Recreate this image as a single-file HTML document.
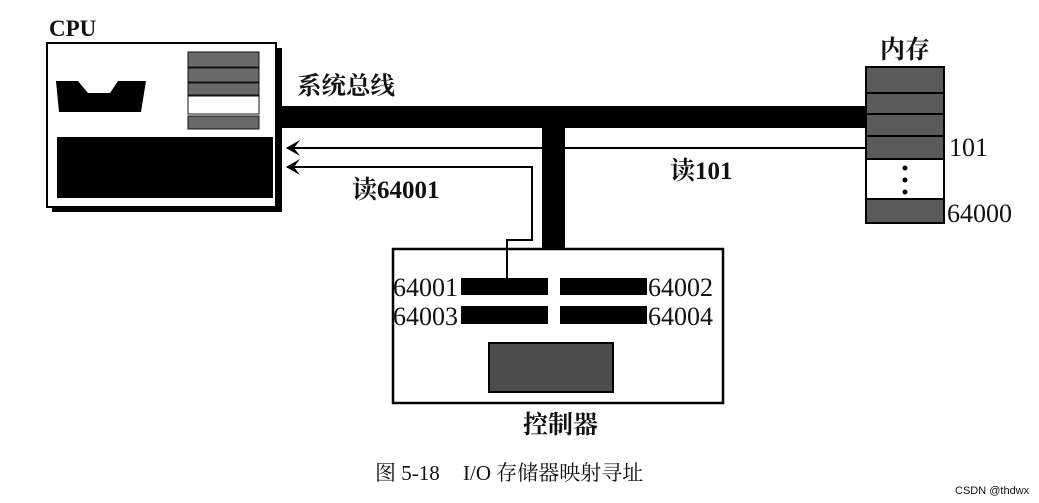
<!DOCTYPE html>
<html><head><meta charset="utf-8">
<style>
html,body{margin:0;padding:0;background:#fff;}
svg{display:block;}
text{font-family:"Liberation Serif","Noto Serif CJK SC","Noto Sans CJK SC",serif;fill:#111;}
</style></head>
<body>
<svg width="1039" height="503" viewBox="0 0 1039 503" xmlns="http://www.w3.org/2000/svg">
<rect width="1039" height="503" fill="#fff"/>
<!-- CPU -->
<text x="49" y="36" font-size="23" font-weight="bold">CPU</text>
<rect x="52" y="48" width="230" height="164" fill="#000"/>
<rect x="47" y="43" width="229" height="164" fill="#fff" stroke="#000" stroke-width="2"/>
<rect x="188" y="52" width="71" height="15" fill="#6a6a6a" stroke="#111"/>
<rect x="188" y="68" width="71" height="14" fill="#6a6a6a" stroke="#111"/>
<rect x="188" y="83" width="71" height="12" fill="#6a6a6a" stroke="#111"/>
<rect x="188" y="96" width="71" height="18" fill="#fff" stroke="#111"/>
<rect x="188" y="116" width="71" height="13" fill="#6a6a6a" stroke="#111"/>
<polygon points="56,81 78,81 88,93 110,93 118,81 146,81 141,112 59,112" fill="#000"/>
<rect x="57" y="137" width="216" height="61" fill="#000"/>
<!-- bus -->
<rect x="280" y="106" width="588" height="22" fill="#000"/>
<rect x="542" y="126" width="23" height="124" fill="#000"/>
<text x="297" y="94" font-size="24.5" font-weight="bold">系统总线</text>
<!-- thin lines -->
<line x1="287" y1="148" x2="868" y2="148" stroke="#000" stroke-width="2"/>
<polyline points="287,167 532,167 532,240 507,240 507,280" fill="none" stroke="#000" stroke-width="2"/>
<path d="M286,148 L300,140 L294,148 L300,156 Z" fill="#000"/>
<path d="M286,167 L300,159 L294,167 L300,175 Z" fill="#000"/>
<text x="352" y="198" font-size="25" font-weight="bold">读64001</text>
<text x="670" y="179" font-size="25" font-weight="bold">读101</text>
<!-- memory -->
<text x="880" y="58" font-size="25" font-weight="bold">内存</text>
<rect x="866" y="67" width="78" height="156" fill="#5a5a5a" stroke="#000" stroke-width="2"/>
<rect x="867" y="159" width="76" height="40" fill="#fff"/>
<line x1="866" y1="93" x2="944" y2="93" stroke="#000" stroke-width="2"/>
<line x1="866" y1="114" x2="944" y2="114" stroke="#000" stroke-width="2"/>
<line x1="866" y1="136" x2="944" y2="136" stroke="#000" stroke-width="2"/>
<line x1="866" y1="159" x2="944" y2="159" stroke="#000" stroke-width="2"/>
<line x1="866" y1="199" x2="944" y2="199" stroke="#000" stroke-width="2"/>
<circle cx="905" cy="168" r="2.5" fill="#000"/>
<circle cx="905" cy="180" r="2.5" fill="#000"/>
<circle cx="905" cy="192" r="2.5" fill="#000"/>
<text x="949" y="156" font-size="26">101</text>
<text x="947" y="222" font-size="26">64000</text>
<!-- controller -->
<rect x="393" y="249" width="330" height="154" fill="#fff" stroke="#000" stroke-width="2.5"/>
<rect x="461" y="278" width="87" height="17" fill="#000"/>
<rect x="560" y="278" width="87" height="17" fill="#000"/>
<rect x="461" y="306" width="87" height="18" fill="#000"/>
<rect x="560" y="306" width="87" height="18" fill="#000"/>
<line x1="507" y1="240" x2="507" y2="280" stroke="#000" stroke-width="2"/>
<rect x="489" y="343" width="124" height="49" fill="#4d4d4d" stroke="#000" stroke-width="2"/>
<text x="393" y="296" font-size="26">64001</text>
<text x="393" y="325" font-size="26">64003</text>
<text x="648" y="296" font-size="26">64002</text>
<text x="648" y="325" font-size="26">64004</text>
<text x="523" y="433" font-size="25" font-weight="bold">控制器</text>
<!-- caption -->
<text x="375" y="480" font-size="21">图 5-18</text>
<text x="463" y="480" font-size="21">I/O 存储器映射寻址</text>
<text x="955" y="494" font-size="11" style="font-family:'Liberation Sans',sans-serif" fill="#888">CSDN @thdwx</text>
</svg>
</body></html>
